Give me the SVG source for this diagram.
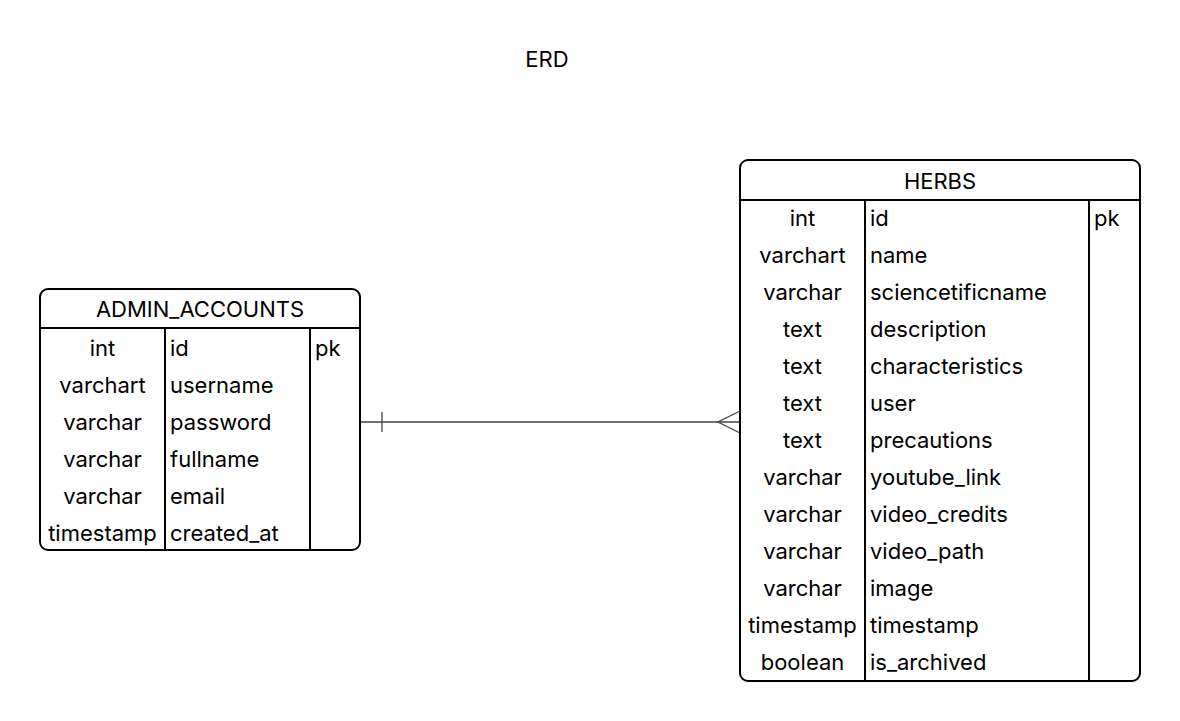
<svg xmlns="http://www.w3.org/2000/svg" width="1180" height="721" viewBox="0 0 1180 721">
<style>
text{font-family:Inter,"Liberation Sans",sans-serif;font-size:22px;fill:#000;dominant-baseline:central}
.c{text-anchor:middle}
.box{fill:#fff;stroke:#000;stroke-width:2}
.div{stroke:#000;stroke-width:2;fill:none}
.conn{stroke:#444;stroke-width:1.3;fill:none}
</style>
<rect width="1180" height="721" fill="#fff"/>
<text x="547" y="59" class="c">ERD</text>
<g id="connectors">
<line class="conn" x1="360" y1="422" x2="740" y2="422"/>
<line class="conn" x1="382" y1="412" x2="382" y2="432"/>
<polyline class="conn" points="740,411 718,422 740,433"/>
</g>
<g id="admin_accounts">
<rect class="box" x="40" y="289" width="320" height="261" rx="8"/>
<line class="div" x1="40" y1="328" x2="360" y2="328"/>
<line class="div" x1="165" y1="328" x2="165" y2="550"/>
<line class="div" x1="310" y1="328" x2="310" y2="550"/>
<text x="200" y="309" class="c">ADMIN_ACCOUNTS</text>
<text x="102.5" y="348" class="c">int</text><text x="170" y="348">id</text><text x="315" y="348">pk</text>
<text x="102.5" y="385" class="c">varchart</text><text x="170" y="385">username</text>
<text x="102.5" y="422" class="c">varchar</text><text x="170" y="422">password</text>
<text x="102.5" y="459" class="c">varchar</text><text x="170" y="459">fullname</text>
<text x="102.5" y="496" class="c">varchar</text><text x="170" y="496">email</text>
<text x="102.5" y="533" class="c">timestamp</text><text x="170" y="533">created_at</text>
</g>
<g id="herbs">
<rect class="box" x="740" y="160" width="400" height="521" rx="8"/>
<line class="div" x1="740" y1="200" x2="1140" y2="200"/>
<line class="div" x1="865" y1="200" x2="865" y2="681"/>
<line class="div" x1="1089" y1="200" x2="1089" y2="681"/>
<text x="940" y="181" class="c">HERBS</text>
<text x="802.5" y="218" class="c">int</text><text x="870" y="218">id</text><text x="1094" y="218">pk</text>
<text x="802.5" y="255" class="c">varchart</text><text x="870" y="255">name</text>
<text x="802.5" y="292" class="c">varchar</text><text x="870" y="292">sciencetificname</text>
<text x="802.5" y="329" class="c">text</text><text x="870" y="329">description</text>
<text x="802.5" y="366" class="c">text</text><text x="870" y="366">characteristics</text>
<text x="802.5" y="403" class="c">text</text><text x="870" y="403">user</text>
<text x="802.5" y="440" class="c">text</text><text x="870" y="440">precautions</text>
<text x="802.5" y="477" class="c">varchar</text><text x="870" y="477">youtube_link</text>
<text x="802.5" y="514" class="c">varchar</text><text x="870" y="514">video_credits</text>
<text x="802.5" y="551" class="c">varchar</text><text x="870" y="551">video_path</text>
<text x="802.5" y="588" class="c">varchar</text><text x="870" y="588">image</text>
<text x="802.5" y="625" class="c">timestamp</text><text x="870" y="625">timestamp</text>
<text x="802.5" y="662" class="c">boolean</text><text x="870" y="662">is_archived</text>
</g>
</svg>
